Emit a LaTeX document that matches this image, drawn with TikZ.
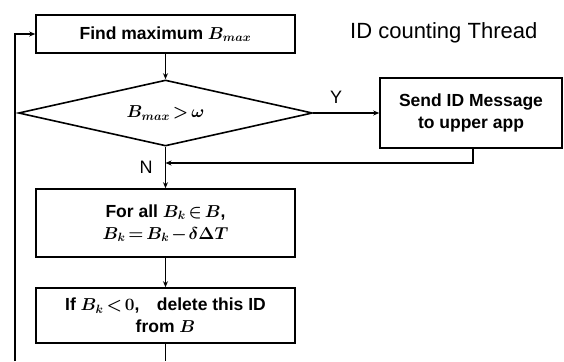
\documentclass[tikz,border=0pt]{standalone}
\usepackage{amsmath,bm}
\usepackage{fontspec}
\setmainfont{Liberation Sans}
\usetikzlibrary{shapes.geometric,arrows.meta}
\thickmuskip=3mu plus 2mu
\medmuskip=2mu plus 1mu
\begin{document}
\begin{tikzpicture}[x=1pt,y=-1pt,
  box/.style={draw, line width=1.6pt, inner sep=0pt, align=center,
    font=\fontsize{17.5}{22}\selectfont\bfseries},
  arr/.style={-{Stealth[length=6pt,width=5pt]}, line width=1.5pt},
  plain/.style={line width=1.5pt},
  lab/.style={font=\fontsize{18}{20}\selectfont}]
\useasboundingbox (0,0) rectangle (564,361);
\node[box, minimum width=259pt, minimum height=38pt] (find) at (165.5,34) {Find maximum $\bm{B_{max}}$};
\node[draw, diamond, line width=1.6pt, inner sep=0pt, aspect=4.45,
  minimum width=294pt, minimum height=66pt, font=\fontsize{17.5}{22}\selectfont] (dec) at (165.5,113) {$\bm{B_{max} > \omega}$};
\node[box, minimum width=182pt, minimum height=70pt] (send) at (471,113) {Send ID Message\\to upper app};
\node[box, minimum width=259pt, minimum height=68pt] (upd) at (165.5,223) {For all $\bm{B_k \in B}$,\\$\bm{B_k = B_k - \delta\Delta T}$};
\node[box, minimum width=259pt, minimum height=55pt] (del) at (165.5,315.5) {If $\bm{B_k < 0}$,\quad delete this ID\\from $\bm{B}$};
\node[anchor=base west, inner sep=0pt, font=\fontsize{22}{26}\selectfont] (title) at (350,39) {ID counting Thread};
\node[lab] (ylab) at (336,97) {Y};
\node[lab] (nlab) at (146,167) {N};
\coordinate (join) at (165.5,163);
\coordinate (bot) at (165.5,361);
\coordinate (lbot) at (15,361);
\coordinate (ltop) at (15,34);
\draw[arr] (find) -- (dec);
\draw[arr] (dec.east) -- (send.west);
\draw[arr] ([xshift=2pt]send.south) |- (join);
\draw[arr] (dec.south) -- (upd.north);
\draw[arr] (upd) -- (del);
\draw[plain] (del.south) -- (bot);
\draw[arr] (lbot) -- (ltop) -- (find.west);
\end{tikzpicture}
\end{document}
